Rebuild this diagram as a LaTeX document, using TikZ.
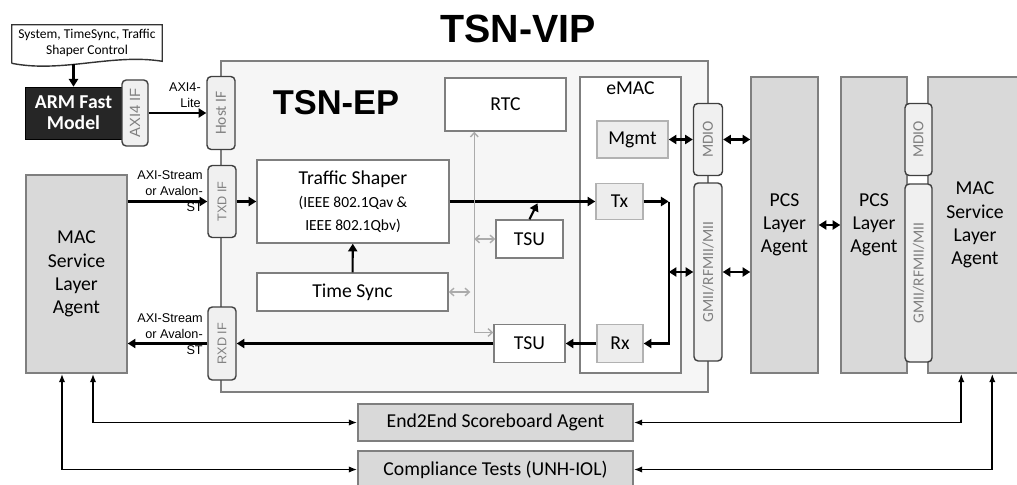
\documentclass[tikz,border=0pt]{standalone}
\usepackage{fontspec}
\usepackage{graphicx}
\setmainfont{Carlito}
\newfontfamily\arialfont{Liberation Sans}
\usetikzlibrary{arrows.meta,calc}

\definecolor{edgegray}{HTML}{7F7F7F}
\definecolor{agentgray}{HTML}{D9D9D9}
\definecolor{blockgray}{HTML}{EDEDED}
\definecolor{tabgray}{HTML}{F0F0F0}
\definecolor{epgray}{HTML}{F6F6F6}
\definecolor{linkgray}{HTML}{ABABAB}

\tikzset{
  sz/.style 2 args={minimum width=#1*0.025cm, minimum height=#2*0.025cm, inner sep=0pt},
  blk/.style={draw=edgegray, line width=1pt, fill=white, align=center, font=\fontsize{14}{16}\selectfont},
  sub/.style={blk, fill=blockgray, draw=gray!60},
  agent/.style={draw=edgegray, line width=1pt, fill=agentgray, align=center, font=\fontsize{14}{16.5}\selectfont},
  tab/.style={draw=black!75, line width=1pt, fill=tabgray, rounded corners=3pt, text=edgegray, font=\fontsize{11}{12}\selectfont},
  lbl/.style={font=\arialfont\fontsize{9}{11.4}\selectfont, align=right, inner sep=0pt},
  arr/.style={line width=1.5pt, -{Triangle[length=5.5pt,width=6.5pt]}},
  darr/.style={line width=1.5pt, {Triangle[length=5.5pt,width=6.5pt]}-{Triangle[length=5.5pt,width=6.5pt]}},
  tarr/.style={line width=1.2pt, {Latex[length=6pt,width=4.5pt]}-{Latex[length=6pt,width=4.5pt]}},
  garr/.style={line width=1pt, draw=linkgray, {Straight Barb[length=3pt,width=5.5pt]}-{Straight Barb[length=3pt,width=5.5pt]}},
}

\begin{document}
\begin{tikzpicture}[x=0.025cm, y=-0.025cm]
  \useasboundingbox (0,0) rectangle (1017,485);

  \node[font=\arialfont\bfseries\fontsize{28}{30}\selectfont, inner sep=0pt] (vip) at (518,28.5) {TSN-VIP};

  % host side
  \node[sz={150}{36}, align=center, font=\fontsize{9.6}{11.6}\selectfont] (ctrl) at (87,43) {System, TimeSync, Traffic\\Shaper Control};
  \draw[line width=1pt, draw=black!80] ($(ctrl.south west)+(0,2)$) -- (ctrl.north west) -- (ctrl.north east) -- (ctrl.south east)
    .. controls ($(ctrl.south east)+(-50,-8)$) and ($(ctrl.south west)+(50,12)$) .. ($(ctrl.south west)+(0,2)$);
  \node[sz={97}{52}, fill=black!85, draw=black, text=white, align=center, font=\bfseries\fontsize{14}{15}\selectfont] (arm) at (73.5,113) {ARM Fast\\Model};
  \node[tab, sz={26}{66}, font=\arialfont\fontsize{10.5}{12}\selectfont] (axi4if) at (135,113) {\rotatebox{90}{AXI4 IF}};

  % TSN-EP
  \node[sz={487}{331}, draw=edgegray, fill=epgray, line width=1.2pt] (tsnep) at (464.5,226.5) {};
  \node[font=\arialfont\bfseries\fontsize{24.5}{26}\selectfont, inner sep=0pt] (eptitle) at (336,102.5) {TSN-EP};

  \node[blk, sz={192}{83}] (shaper) at (353,201.5) {{\fontsize{14}{16}\selectfont Traffic Shaper}\\[1pt]{\fontsize{11}{11.5}\selectfont (IEEE 802.1Qav \&}\\{\fontsize{11}{11.5}\selectfont IEEE 802.1Qbv)}};
  \node[blk, sz={191}{38}] (timesync) at (352.5,292) {Time Sync};
  \node[blk, sz={121}{53}] (rtc) at (505.5,104.5) {RTC};
  \node[blk, sz={67}{38}] (tsu1) at (529.5,239) {TSU};
  \node[blk, sz={71}{38}] (tsu2) at (529.5,343.5) {TSU};

  \node[sz={101}{296}, draw=edgegray, fill=white, line width=1pt] (emac) at (630.5,225) {};
  \node[font=\fontsize{14}{16}\selectfont, inner sep=0pt] (emaclbl) at ($(emac.north)+(0,12)$) {eMAC};
  \node[sub, sz={71}{37}] (mgmt) at (632.5,139.5) {Mgmt};
  \node[sub, sz={47}{36}] (tx) at (619.5,201.5) {Tx};
  \node[sub, sz={46}{38}] (rx) at (620,343.5) {Rx};

  \node[tab, sz={28}{73}] (hostif) at (221,113) {\rotatebox{90}{Host IF}};
  \node[tab, sz={28}{72}, font=\arialfont\fontsize{9}{11}\selectfont] (txdif) at (222,201.5) {\rotatebox{90}{TXD IF}};
  \node[tab, sz={28}{73}, font=\arialfont\fontsize{9}{11}\selectfont] (rxdif) at (222,343.5) {\rotatebox{90}{RXD IF}};
  \node[tab, sz={29}{72}] (mdio1) at (708,139.5) {\rotatebox{90}{MDIO}};
  \node[tab, sz={28}{178}] (gmii1) at (708,272) {\rotatebox{90}{GMII/RFMII/MII}};

  % agents
  \node[agent, sz={101}{198}] (macL) at (76.5,274) {MAC\\Service\\Layer\\Agent};
  \node[agent, sz={67}{296}] (pcs1) at (784.5,225) {PCS\\Layer\\Agent};
  \node[agent, sz={66}{296}] (pcs2) at (874,225) {PCS\\Layer\\Agent};
  \node[agent, sz={94}{296}] (macR) at (975,225) {MAC\\Service\\Layer\\Agent};
  \node[tab, sz={27}{72}] (mdio2) at (918.5,139.5) {\rotatebox{90}{MDIO}};
  \node[tab, sz={27}{178}] (gmii2) at (918.5,273) {\rotatebox{90}{GMII/RFMII/MII}};

  \node[agent, sz={275}{37}] (e2e) at (495.5,422.5) {End2End Scoreboard Agent};
  \node[agent, sz={275}{37}] (comp) at (495.5,469.5) {Compliance Tests (UNH-IOL)};

  % labels
  \node[lbl, anchor=south east] (axilite) at (201,108) {AXI4-\\Lite};
  \node[lbl, anchor=east] (axitx) at (203,191) {AXI-Stream\\or Avalon-\\ST};
  \node[lbl, anchor=east] (axirx) at (203,334) {AXI-Stream\\or Avalon-\\ST};

  % connections
  \draw[arr] ($(ctrl.south -| arm.north)+(0,3)$) -- (arm.north);
  \draw[arr] (axi4if) -- (hostif);
  \draw[arr] (macL.east |- txdif) -- (txdif.west);
  \draw[arr] (txdif) -- (shaper);
  \draw[arr] (shaper) -- (tx);
  \coordinate (tap) at ($(tsu1.north)+(8,-16)$);
  \draw[arr] (tsu1.north) -- (tap);
  \draw[arr] (timesync) -- (shaper);

  \coordinate (gtop) at ($(rtc.south west)+(30,0)$);
  \draw[garr] (gtop) |- ($(tsu2.west)+(0,-11)$);
  \draw[garr] (tsu1.west -| gtop) -- (tsu1.west);
  \draw[garr] (timesync.east) -- ($(timesync.east -| gtop)+(-4,0)$);

  \draw[arr] (rx) -- (tsu2);
  \draw[arr] (tsu2) -- (rxdif);
  \draw[arr] (rxdif.west) -- (rxdif.west -| macL.east);

  \coordinate (jtop) at (tx.east -| mgmt.east);
  \draw[arr] (tx) -- (jtop);
  \draw[arr] (jtop) |- (rx);
  \draw[darr] (jtop |- gmii1) -- (gmii1);
  \draw[darr] (mgmt) -- (mdio1);
  \draw[darr] (mdio1) -- (mdio1 -| pcs1.west);
  \draw[darr] (gmii1) -- (gmii1 -| pcs1.west);
  \draw[darr] (pcs1) -- (pcs2);

  \draw[tarr] ($(macL.south)+(16.5,0)$) |- (e2e);
  \draw[tarr] ($(macL.south)+(-14.5,0)$) |- (comp);
  \draw[tarr] ($(macR.south west)+(34,0)$) |- (e2e);
  \draw[tarr] ($(macR.south west)+(65,0)$) |- (comp);
\end{tikzpicture}
\end{document}
